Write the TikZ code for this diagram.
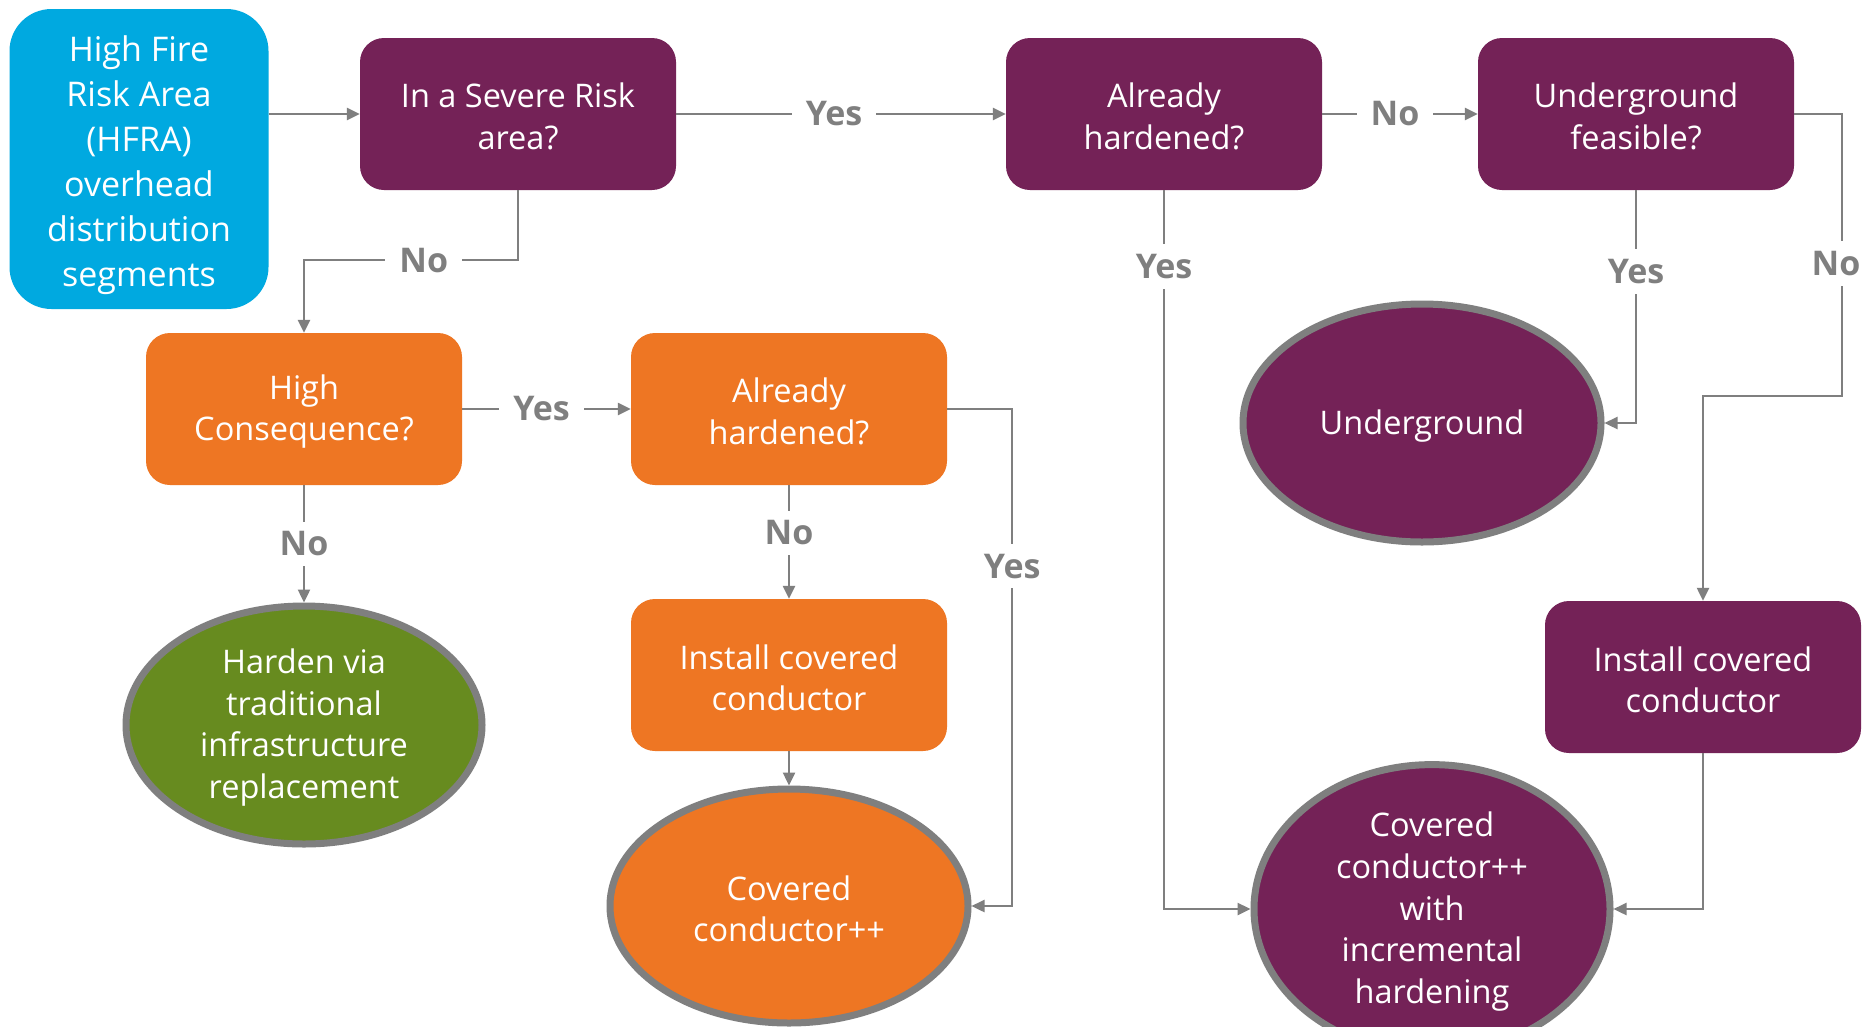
\documentclass[tikz,border=0pt]{standalone}
\usepackage{fontspec}
\setmainfont{Open Sans}
\usetikzlibrary{arrows.meta,shapes.geometric}
\definecolor{cblue}{HTML}{00A9E0}
\definecolor{cpurple}{HTML}{742257}
\definecolor{corange}{HTML}{EE7623}
\definecolor{cgreen}{HTML}{678B1F}
\definecolor{cgray}{HTML}{7F7F7F}
\newcommand{\dropstrut}{\rule{0pt}{30pt}}
\begin{document}
\begin{tikzpicture}[x=1pt,y=-1pt,
  box/.style={rectangle, rounded corners=24pt, minimum width=316pt, minimum height=152pt,
    align=center, text=white, font=\fontsize{32.5}{41.6}\selectfont, inner sep=0pt},
  ell/.style={ellipse, draw=cgray, line width=7pt, align=center, text=white,
    font=\fontsize{32.5}{41.6}\selectfont, inner sep=0pt},
  arr/.style={draw=cgray, line width=2.4pt, -{Triangle[length=13pt,width=12pt]}},
  lbl/.style={fill=white, text=cgray, font=\fontsize{34}{40}\selectfont\bfseries,
    inner xsep=14pt, inner ysep=10pt}
]
\fill[white] (0,0) rectangle (1863,1026);
\useasboundingbox (0,0) rectangle (1863,1026);

\node[box, fill=cblue, minimum width=259pt, minimum height=300pt, rounded corners=42pt,
  font=\fontsize{34}{45}\selectfont] (hfra) at (139,159)
  {\rule{0pt}{38pt}High Fire\\Risk Area\\(HFRA)\\overhead\\distribution\\segments};
\node[box, fill=cpurple] (sev) at (518,114) {\dropstrut In a Severe Risk\\area?};
\node[box, fill=cpurple] (ah1) at (1164,114) {\dropstrut Already\\hardened?};
\node[box, fill=cpurple] (uf) at (1636,114) {\dropstrut Underground\\feasible?};
\node[box, fill=corange] (hc) at (304,409) {\dropstrut High\\Consequence?};
\node[box, fill=corange] (ah2) at (789,409) {\dropstrut Already\\hardened?};
\node[box, fill=corange] (ic1) at (789,675) {\dropstrut Install covered\\conductor};
\node[box, fill=cpurple] (ic2) at (1703,677) {\dropstrut Install covered\\conductor};

\node[ell, fill=cgreen, minimum width=356pt, minimum height=238pt] (hv) at (304,725)
  {\dropstrut Harden via\\traditional\\infrastructure\\replacement};
\node[ell, fill=corange, minimum width=358pt, minimum height=234pt] (cc1) at (789,906)
  {\dropstrut Covered\\conductor++};
\node[ell, fill=cpurple, minimum width=358pt, minimum height=238pt] (ug) at (1422,423)
  {\dropstrut Underground};
\node[ell, fill=cpurple, minimum width=356pt, minimum height=238pt] (cc2) at (1432,909)
  {\dropstrut Covered\\conductor++\\with\\incremental\\hardening};

\draw[arr] (hfra.east |- sev.west) -- (sev.west);
\draw[arr] (sev.east) -- node[lbl, xshift=-7pt]{Yes} (ah1.west);
\draw[arr] (ah1.east) -- node[lbl, xshift=-5pt]{No} (uf.west);
\draw[arr] (sev.south) -- ++(0,70) -| node[lbl, pos=0.22]{No} (hc.north);
\draw[arr] (hc.east) -- node[lbl, xshift=-5pt]{Yes} (ah2.west);
\draw[arr] (hc.south) -- node[lbl]{No} (hv.north);
\draw[arr] (ah2.south) -- node[lbl, yshift=9pt]{No} (ic1.north);
\draw[arr] (ic1.south) -- (cc1.north);
\draw[arr] (ah2.east) -- ++(65,0) |- node[lbl, pos=0.158]{Yes} (cc1.east);
\draw[arr] (ah1.south) |- node[lbl, pos=0.053]{Yes} (cc2.west);
\draw[arr] (uf.south) |- node[lbl, pos=0.174]{Yes} (ug.east);
\coordinate (r1) at (1842,114);
\coordinate (r2) at (1842,396);
\coordinate (r3) at (1703,396);
\draw[arr] (uf.east) -- (r1) -- node[lbl, pos=0.53, xshift=-6pt]{No} (r2) -- (r3) -- (ic2.north);
\draw[arr] (ic2.south) |- (cc2.east);
\end{tikzpicture}
\end{document}
